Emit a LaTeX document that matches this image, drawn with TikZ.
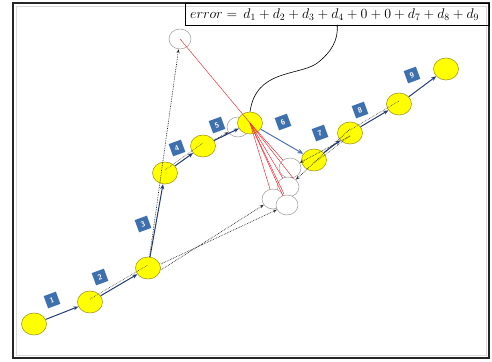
\documentclass[tikz,border=0pt]{standalone}
\usepackage{graphicx}
\usetikzlibrary{arrows.meta,shapes.geometric}
\definecolor{navy}{HTML}{233A78}
\definecolor{steel}{HTML}{4F72B8}
\definecolor{lbl}{HTML}{3F70AE}
\definecolor{ylw}{HTML}{FFFF00}
\definecolor{ylwline}{HTML}{A89A20}
\definecolor{ghost}{HTML}{9A9A9A}
\definecolor{redl}{HTML}{F0303A}
\begin{document}
\begin{tikzpicture}[x=1pt,y=-1pt,
 pt/.style={ellipse,draw=ylwline,fill=ylw,minimum width=25pt,minimum height=22pt,inner sep=0pt,line width=0.6pt},
 gh/.style={ellipse,draw=ghost,fill=white,minimum width=22pt,minimum height=20pt,inner sep=0pt,line width=0.5pt},
 lab/.style={fill=lbl,text=white,font=\sffamily\bfseries\fontsize{7.5}{7.5}\selectfont,minimum size=13pt,inner sep=0pt,rotate=20},
 mv/.style={draw=navy,line width=1pt,-{Stealth[length=5pt,width=4pt]}},
 mvl/.style={draw=steel,line width=1pt,-{Stealth[length=6pt,width=5pt]}},
 dt/.style={draw=black!85,densely dotted,line width=0.7pt,-{Stealth[length=4pt,width=3pt]}},
 dtn/.style={draw=black!75,densely dotted,line width=0.6pt},
 rd/.style={draw=redl,line width=0.5pt}]
\useasboundingbox (0,0) rectangle (492,361);
% frame
\draw[line width=2.4pt,black!85] (13,3) rectangle (489,358);
\draw[gray!30,line width=0.5pt] (16,6) rectangle (486,355);
% formula box
\node[draw,line width=0.6pt,anchor=north west,minimum width=304pt,minimum height=22pt,inner sep=0pt] (err) at (185,3) {};
\node[anchor=west,inner sep=0pt,font=\fontsize{14}{16}\selectfont] (ft) at (190,14.5) {\scalebox{0.97}{$error=\,d_1+d_2+d_3+d_4+0+0+d_7+d_8+d_9$}};
% ghost positions
\node[gh] (gt) at (180,39) {};
\node[gh] (g5) at (238,127) {};
\node[gh] (ga) at (290,168) {};
\node[gh] (gb) at (288,187) {};
\node[gh] (gc) at (273,199) {};
\node[gh] (gd) at (287,205) {};
% points
\node[pt] (n1) at (34,324) {};
\node[pt] (n2) at (90,302) {};
\node[pt] (n3) at (148,268) {};
\node[pt] (n4) at (165,173) {};
\node[pt] (n5) at (203,146) {};
\node[pt] (n6) at (250,123) {};
\node[pt] (n7) at (314,160) {};
\node[pt] (n8) at (350,133) {};
\node[pt] (n9) at (399,104) {};
\node[pt] (n10) at (446,69) {};
% red lines
\coordinate (r1) at (284,194);
\coordinate (r2) at (293,178);
\draw[rd] (gt.center) -- (n6.center);
\foreach \g in {ga,gb,gc,gd,r1,r2} \draw[rd] (n6.center) -- (\g);
% dotted estimate arrows
\draw[dt] (n3) -- (gt);
\draw[dt] ([yshift=-2pt]n3.east) -- (gc);
\draw[dt] ([yshift=4pt]n3.east) -- (gd);
\draw[dt] (n5) -- (g5);
\draw[dt] ([yshift=-3pt]n8.center) -- (ga);
\draw[dt] ([yshift=4pt]n8.center) -- (gb);
\draw[dtn] ([yshift=3pt]n2.center) -- ([yshift=3pt]n3.center);
\draw[dtn] ([yshift=3pt]n4.center) -- ([yshift=3pt]n5.center);
\draw[dtn] ([yshift=-3pt]n7.center) -- ([yshift=-3pt]n8.center);
\draw[dtn] ([yshift=3pt]n8.center) -- ([yshift=3pt]n9.center);
% moves
\draw[mv] (n1) -- (n2);
\draw[mv] (n2) -- (n3);
\draw[mv] (n3) -- (n4);
\draw[mv] (n4) -- (n5);
\draw[mv] (n5) -- (n6);
\draw[mvl] (n6) -- (n7);
\draw[mv] (n7) -- (n8);
\draw[mv] (n8) -- (n9);
\draw[mv] (n9) -- (n10);
% connector to formula
\coordinate (cm) at (316,64);
\draw[black,line width=0.6pt] (n6.north) .. controls (256,70) and (296,76) .. (cm) .. controls (332,52) and (338,40) .. (err.south);
\fill (err.south) circle (1pt);
% labels
\node[lab] (l1) at (52,300) {1};
\node[lab] (l2) at (100,277) {2};
\node[lab] (l3) at (143,224) {3};
\node[lab] (l4) at (177,148) {4};
\node[lab] (l5) at (217,125) {5};
\node[lab] (l6) at (283,122) {6};
\node[lab] (l7) at (320,133) {7};
\node[lab] (l8) at (360,110) {8};
\node[lab] (l9) at (412,75) {9};
\end{tikzpicture}
\end{document}
